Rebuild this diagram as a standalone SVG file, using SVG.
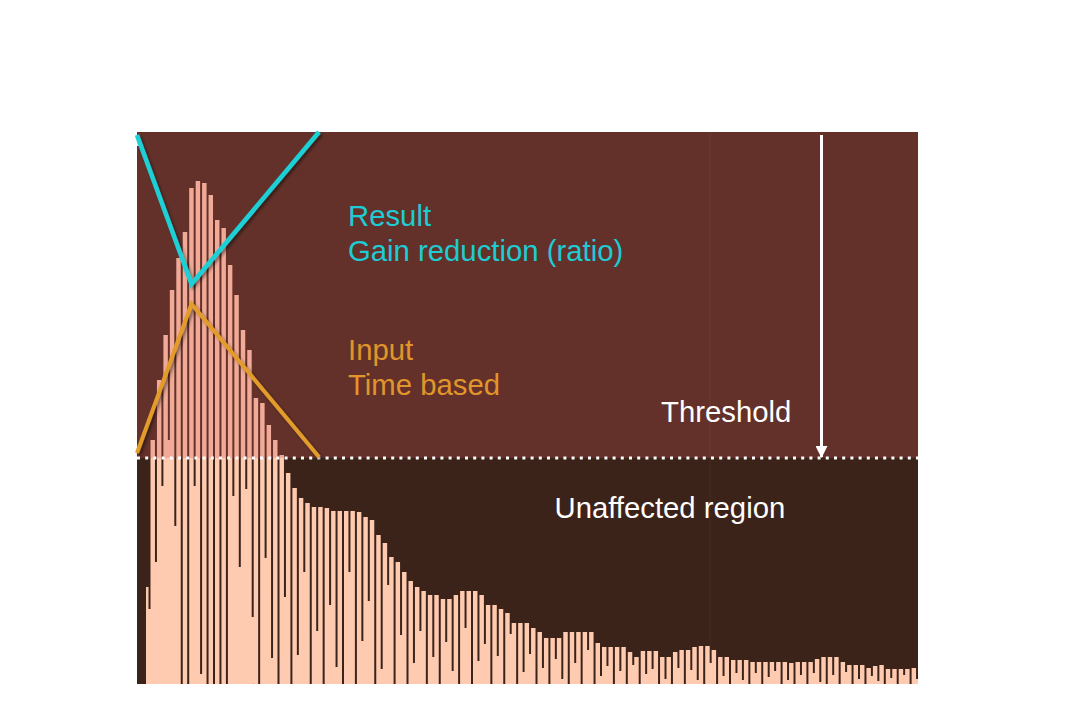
<svg xmlns="http://www.w3.org/2000/svg" width="1083" height="706" viewBox="0 0 1083 706">
<style>
.lbl{font-family:"Liberation Sans",Arial,sans-serif;font-size:29.3px}
.cy{fill:#1dccd4}
.or{fill:#e0962b}
.wh{fill:#ffffff}
.bar{fill:#ffcbb0}
</style>
<defs>
<filter id="sh" x="-20%" y="-20%" width="140%" height="140%">
<feDropShadow dx="2" dy="2" stdDeviation="1.6" flood-color="#000" flood-opacity="0.45"/>
</filter>
<marker id="ah" viewBox="0 0 12 12" refX="11" refY="6" markerWidth="12" markerHeight="12" markerUnits="userSpaceOnUse" orient="auto">
<path d="M0,0 L12,6 L0,12 Z" fill="#fff"/>
</marker>
</defs>
<rect width="1083" height="706" fill="#ffffff"/>
<g id="chart">
<rect x="137" y="132" width="781" height="552" fill="#3c231a"/>
</g>
<g id="histogram">
<path class="bar" d="M146,587h2.5V684h-2.5z M148.5,609h2V684h-2z
M150.5,440h4.45V684h-4.45z M154.95,562h2V684h-2z
M156.95,380h4.45V684h-4.45z M161.4,486h2V684h-2z
M163.4,335h4.45V684h-4.45z M167.85,440h2V684h-2z
M169.85,290h4.45V684h-4.45z M174.3,526h2V684h-2z
M176.3,258h4.45V684h-4.45z
M182.75,232h4.45V684h-4.45z
M189.2,188h4.45V684h-4.45z M193.65,486h2V684h-2z
M195.65,181h4.45V684h-4.45z M200.1,674h2V684h-2z
M202.1,183h4.45V684h-4.45z
M208.55,195h4.45V684h-4.45z
M215,220h4.45V684h-4.45z
M221.45,228h4.45V684h-4.45z
M227.9,265h4.45V684h-4.45z M232.35,496h2V684h-2z
M234.35,295h4.45V684h-4.45z M238.8,567h2V684h-2z
M240.8,330h4.45V684h-4.45z M245.25,489h2V684h-2z
M247.25,350h4.45V684h-4.45z M251.7,617h2V684h-2z
M253.7,398h4.45V684h-4.45z
M260.15,403h4.45V684h-4.45z M264.6,558h2V684h-2z
M266.6,425h4.45V684h-4.45z M271.05,658h2V684h-2z
M273.05,440h4.45V684h-4.45z
M279.5,455h4.45V684h-4.45z M283.95,597h2V684h-2z
M285.95,473h4.45V684h-4.45z
M292.4,488h4.45V684h-4.45z M296.85,655h2V684h-2z
M298.85,498h4.45V684h-4.45z M303.3,572h2V684h-2z
M305.3,503h4.45V684h-4.45z
M311.75,507h4.45V684h-4.45z M316.2,631h2V684h-2z
M318.2,507h4.45V684h-4.45z
M324.65,508h4.45V684h-4.45z M329.1,605h2V684h-2z
M331.1,511h4.45V684h-4.45z M335.55,667h2V684h-2z
M337.55,511h4.45V684h-4.45z
M344,511h4.45V684h-4.45z M348.45,572h2V684h-2z
M350.45,511h4.45V684h-4.45z
M356.9,512h4.45V684h-4.45z M361.35,641h2V684h-2z
M363.35,517h4.45V684h-4.45z M367.8,601h2V684h-2z
M369.8,520h4.45V684h-4.45z
M376.25,535h4.45V684h-4.45z M380.7,669h2V684h-2z
M382.7,543h4.45V684h-4.45z M387.15,585h2V684h-2z
M389.15,557h4.45V684h-4.45z
M395.6,562h4.45V684h-4.45z M400.05,635h2V684h-2z
M402.05,572h4.45V684h-4.45z
M408.5,581h4.45V684h-4.45z M412.95,663h2V684h-2z
M414.95,587h4.45V684h-4.45z M419.4,631h2V684h-2z
M421.4,591h4.45V684h-4.45z
M427.85,595h4.45V684h-4.45z M432.3,657h2V684h-2z
M434.3,595h4.45V684h-4.45z
M440.75,599h4.45V684h-4.45z M445.2,642h2V684h-2z
M447.2,599h4.45V684h-4.45z M451.65,671h2V684h-2z
M453.65,595h4.45V684h-4.45z
M460.1,591h4.45V684h-4.45z M464.55,628h2V684h-2z
M466.55,591h4.45V684h-4.45z
M473,591h4.45V684h-4.45z M477.45,661h2V684h-2z
M479.45,595h4.45V684h-4.45z M483.9,644h2V684h-2z
M485.9,605h4.45V684h-4.45z
M492.35,605h4.45V684h-4.45z M496.8,656h2V684h-2z
M498.8,609h4.45V684h-4.45z
M505.25,613h4.45V684h-4.45z M509.7,634h2V684h-2z
M511.7,623h4.45V684h-4.45z
M518.15,623h4.45V684h-4.45z M522.6,672h2V684h-2z
M524.6,623h4.45V684h-4.45z M529.05,654h2V684h-2z
M531.05,628h4.45V684h-4.45z
M537.5,632h4.45V684h-4.45z M541.95,668h2V684h-2z
M543.95,638h4.45V684h-4.45z
M550.4,638h4.45V684h-4.45z M554.85,659h2V684h-2z
M556.85,638h4.45V684h-4.45z M561.3,679h2V684h-2z
M563.3,632h4.45V684h-4.45z
M569.75,632h4.45V684h-4.45z M574.2,663h2V684h-2z
M576.2,632h4.45V684h-4.45z
M582.65,632h4.45V684h-4.45z M587.1,650h2V684h-2z
M589.1,632h4.45V684h-4.45z
M595.55,643h4.45V684h-4.45z M600,676h2V684h-2z
M602,647h4.45V684h-4.45z M606.45,666h2V684h-2z
M608.45,647h4.45V684h-4.45z
M614.9,647h4.45V684h-4.45z M619.35,671h2V684h-2z
M621.35,647h4.45V684h-4.45z
M627.8,652h4.45V684h-4.45z M632.25,665h2V684h-2z
M634.25,657h4.45V684h-4.45z
M640.7,651h4.45V684h-4.45z M645.15,674h2V684h-2z
M647.15,651h4.45V684h-4.45z M651.6,669h2V684h-2z
M653.6,651h4.45V684h-4.45z
M660.05,657h4.45V684h-4.45z M664.5,679h2V684h-2z
M666.5,657h4.45V684h-4.45z
M672.95,652h4.45V684h-4.45z M677.4,668h2V684h-2z
M679.4,650h4.45V684h-4.45z
M685.85,650h4.45V684h-4.45z M690.3,670h2V684h-2z
M692.3,647h4.45V684h-4.45z M696.75,680h2V684h-2z
M698.75,646h4.45V684h-4.45z
M705.2,646h4.45V684h-4.45z M709.65,663h2V684h-2z
M711.65,650h4.45V684h-4.45z
M718.1,657h4.45V684h-4.45z M722.55,676h2V684h-2z
M724.55,657h4.45V684h-4.45z
M731,660h4.45V684h-4.45z M735.45,673h2V684h-2z
M737.45,660h4.45V684h-4.45z M741.9,680h2V684h-2z
M743.9,660h4.45V684h-4.45z
M750.35,662h4.45V684h-4.45z M754.8,673h2V684h-2z
M756.8,662h4.45V684h-4.45z
M763.25,662h4.45V684h-4.45z M767.7,677h2V684h-2z
M769.7,662h4.45V684h-4.45z M774.15,671h2V684h-2z
M776.15,662h4.45V684h-4.45z
M782.6,662h4.45V684h-4.45z M787.05,680h2V684h-2z
M789.05,663h4.45V684h-4.45z
M795.5,662h4.45V684h-4.45z M799.95,675h2V684h-2z
M801.95,662h4.45V684h-4.45z
M808.4,662h4.45V684h-4.45z M812.85,673h2V684h-2z
M814.85,659h4.45V684h-4.45z M819.3,682h2V684h-2z
M821.3,657h4.45V684h-4.45z
M827.75,657h4.45V684h-4.45z M832.2,675h2V684h-2z
M834.2,657h4.45V684h-4.45z
M840.65,662h4.45V684h-4.45z M845.1,672h2V684h-2z
M847.1,665h4.45V684h-4.45z
M853.55,665h4.45V684h-4.45z M858,679h2V684h-2z
M860,665h4.45V684h-4.45z
M866.45,668h4.45V684h-4.45z M870.9,676h2V684h-2z
M872.9,666h4.45V684h-4.45z M877.35,681h2V684h-2z
M879.35,665h4.45V684h-4.45z
M885.8,669h4.45V684h-4.45z M890.25,678h2V684h-2z
M892.25,669h4.45V684h-4.45z
M898.7,669h4.45V684h-4.45z M903.15,675h2V684h-2z
M905.15,669h4.45V684h-4.45z
M911.6,668h4.45V684h-4.45z M916.05,679h1.95V684h-1.95z"/>
</g>
<g id="gain-region">
<rect x="137" y="132" width="781" height="326" fill="#c85655" fill-opacity="0.28"/>
<line x1="710" y1="132" x2="710" y2="684" stroke="#ffffff" stroke-opacity="0.04" stroke-width="1"/>
</g>
<g id="threshold-line">
<line x1="137" y1="458" x2="918" y2="458" stroke="#ffffff" stroke-width="3" stroke-dasharray="3 5.2"/>
</g>
<g id="top-mark">
<path d="M134.5,133 L128.5,146 L140,146 Z" fill="#ffffff" fill-opacity="0.9"/>
<rect x="130.5" y="146" width="3" height="14" fill="#ffffff" fill-opacity="0.25"/>
</g>
<g id="connectors">
<line x1="821.5" y1="135" x2="821.5" y2="457" stroke="#ffffff" stroke-width="3" marker-end="url(#ah)"/>
<polyline points="137,135 191.5,284 319,132" fill="none" stroke="#1dd0d6" stroke-width="4.6" stroke-linejoin="miter" filter="url(#sh)"/>
<polyline points="137,453 191.5,304 319,457" fill="none" stroke="#e39c2b" stroke-width="4" stroke-linejoin="miter" filter="url(#sh)"/>
</g>
<g id="label-result">
<text class="lbl cy" x="348" y="226">Result</text>
<text class="lbl cy" x="348" y="261">Gain reduction (ratio)</text>
</g>
<g id="label-input">
<text class="lbl or" x="348" y="360">Input</text>
<text class="lbl or" x="348" y="395">Time based</text>
</g>
<g id="label-threshold">
<text class="lbl wh" x="661" y="422">Threshold</text>
</g>
<g id="label-unaffected">
<text class="lbl wh" x="554.5" y="518">Unaffected region</text>
</g>
</svg>
